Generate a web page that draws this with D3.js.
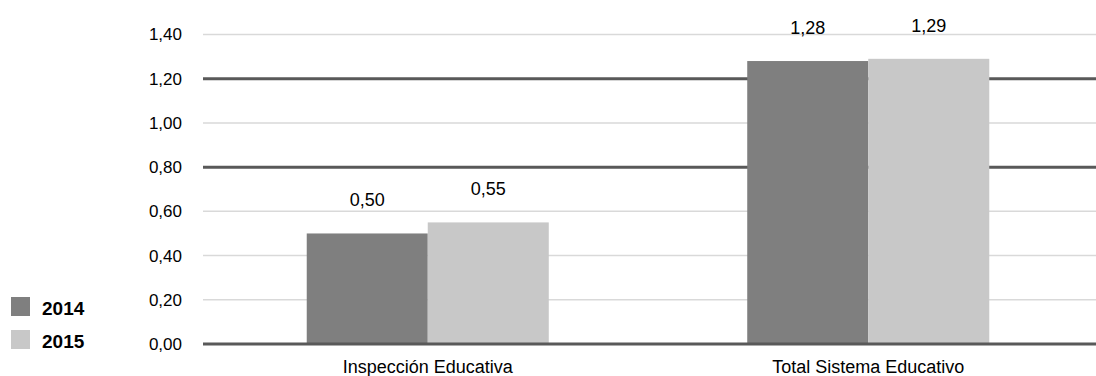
<!DOCTYPE html>
<html>
<head>
<meta charset="utf-8">
<script src="https://cdn.jsdelivr.net/npm/d3@7"></script>
<style>
  html, body { margin: 0; padding: 0; background: #fff; }
  svg { display: block; font-family: "Liberation Sans", Arial, sans-serif; }
</style>
</head>
<body>
<svg id="chart" width="1096" height="376"></svg>
<script>
// Categories, series and values
const categories = ["Inspección Educativa", "Total Sistema Educativo"];
const series = ["2014", "2015"];
const values2014 = [0.50, 1.28];
const values2015 = [0.55, 1.29];
const yTicks = [0, 0.2, 0.4, 0.6, 0.8, 1.0, 1.2, 1.4];
const strongTicks = [0, 0.8, 1.2];

const colors = { "2014": "#7f7f7f", "2015": "#c8c8c8" };
const fmt = v => d3.format(".2f")(v).replace(".", ",");

const svg = d3.select("#chart");
const W = 1096, H = 376;
const plotLeft = 203, plotRight = 1096;

const y = d3.scaleLinear().domain([0, 1.4]).range([344, 34.5]);
const x0 = d3.scaleBand().domain(categories).range([207.5, 1088.5]).padding(0);
const x1 = d3.scaleBand().domain(series).range([0, x0.bandwidth()]).paddingInner(0).paddingOuter(0.82);

const rows = categories.map((c, i) => ({ cat: c, vals: [
  { s: "2014", v: values2014[i] },
  { s: "2015", v: values2015[i] }
]}));

// Light gridlines
svg.append("g").selectAll("line")
  .data(yTicks.filter(t => !strongTicks.includes(t)))
  .join("line")
  .attr("x1", plotLeft).attr("x2", plotRight)
  .attr("y1", d => y(d)).attr("y2", d => y(d))
  .attr("stroke", "#d9d9d9").attr("stroke-width", 1.5);

// Dark reference lines (excluding baseline, drawn last)
svg.append("g").selectAll("line")
  .data(strongTicks.filter(t => t !== 0))
  .join("line")
  .attr("x1", plotLeft).attr("x2", plotRight)
  .attr("y1", d => y(d)).attr("y2", d => y(d))
  .attr("stroke", "#595959").attr("stroke-width", 3);

// Bars
const groups = svg.append("g").selectAll("g")
  .data(rows).join("g")
  .attr("transform", d => `translate(${x0(d.cat)},0)`);

groups.selectAll("rect")
  .data(d => d.vals).join("rect")
  .attr("x", d => x1(d.s))
  .attr("width", x1.bandwidth())
  .attr("y", d => y(d.v))
  .attr("height", d => y(0) - y(d.v))
  .attr("fill", d => colors[d.s]);

// Value labels
groups.selectAll("text")
  .data(d => d.vals).join("text")
  .attr("x", d => x1(d.s) + x1.bandwidth() / 2)
  .attr("y", d => y(d.v) - 27)
  .attr("text-anchor", "middle")
  .attr("font-size", 18)
  .attr("fill", "#000")
  .text(d => fmt(d.v));

// Baseline
svg.append("line")
  .attr("x1", plotLeft).attr("x2", plotRight)
  .attr("y1", y(0)).attr("y2", y(0))
  .attr("stroke", "#595959").attr("stroke-width", 3);

// Y axis tick labels
const yAxis = d3.axisLeft(y).tickValues(yTicks).tickFormat(fmt).tickSize(0).tickPadding(0);
const gy = svg.append("g").attr("transform", "translate(182,0)").call(yAxis);
gy.select(".domain").remove();
gy.selectAll("text").attr("font-size", 17).attr("fill", "#000")
  .attr("font-family", "'Liberation Sans', Arial, sans-serif");

// Category labels
const xAxis = d3.axisBottom(x0).tickSize(0).tickPadding(0);
const gx = svg.append("g").attr("transform", "translate(0,360)").call(xAxis);
gx.select(".domain").remove();
gx.selectAll("text").attr("font-size", 18).attr("fill", "#000").attr("dy", "0.72em")
  .attr("font-family", "'Liberation Sans', Arial, sans-serif");

// Legend
const legend = svg.append("g").selectAll("g")
  .data(series).join("g")
  .attr("transform", (d, i) => `translate(11,${297 + i * 33})`);
legend.append("rect").attr("width", 19).attr("height", 19).attr("fill", d => colors[d]);
legend.append("text").attr("x", 31).attr("y", 18)
  .attr("font-size", 19).attr("font-weight", "bold").attr("fill", "#000")
  .text(d => d);
</script>
</body>
</html>
